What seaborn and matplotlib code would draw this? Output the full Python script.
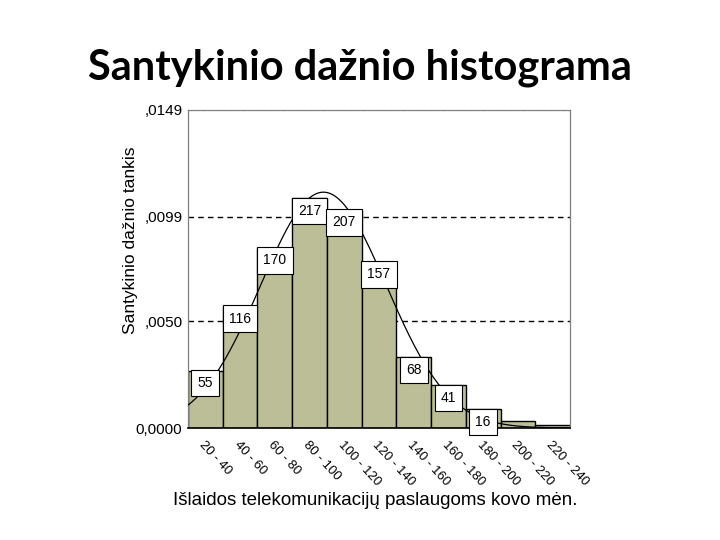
import numpy as np
import pandas as pd
import matplotlib
matplotlib.use("Agg")
import matplotlib.pyplot as plt
import seaborn as sns

# histogram data
bin_edges = [20, 40, 60, 80, 100, 120, 140, 160, 180, 200, 220, 240]
bin_labels = ["20 - 40", "40 - 60", "60 - 80", "80 - 100", "100 - 120", "120 - 140",
              "140 - 160", "160 - 180", "180 - 200", "200 - 220", "220 - 240"]
density = [0.00269, 0.00571, 0.00844, 0.01076, 0.01022, 0.00779,
           0.00331, 0.00200, 0.00087, 0.00033, 0.00013]
counts = [55, 116, 170, 217, 207, 157, 68, 41, 16, None, None]

# fitted normal curve parameters
curve_mean = 98.0
curve_sd = 36.1

ytick_values = [0.0, 0.0050, 0.0099, 0.0149]
ytick_labels = ["0,0000", ",0050", ",0099", ",0149"]

sns.set_style("white")
plt.rcParams["font.family"] = ["Liberation Sans", "DejaVu Sans"]
plt.rcParams["text.color"] = "black"
plt.rcParams["axes.labelcolor"] = "black"
plt.rcParams["xtick.color"] = "black"
plt.rcParams["ytick.color"] = "black"

bin_centers = [(a + b) / 2 for a, b in zip(bin_edges[:-1], bin_edges[1:])]
df = pd.DataFrame({"center": bin_centers, "density": density, "label": bin_labels})

fig = plt.figure(figsize=(7.2, 5.4), dpi=100)
ax = fig.add_axes([188 / 720, 1 - 428 / 540, 382 / 720, 318 / 540])

sns.histplot(data=df, x="center", weights="density", bins=bin_edges, stat="count",
             color="#BBBE96", alpha=1, edgecolor="black", linewidth=1.0, ax=ax, zorder=2)

# normal curve
xs = np.linspace(bin_edges[0], bin_edges[-1], 300)
pdf = np.exp(-0.5 * ((xs - curve_mean) / curve_sd) ** 2) / (curve_sd * np.sqrt(2 * np.pi))
sns.lineplot(x=xs, y=pdf, color="black", linewidth=0.9, ax=ax, zorder=3)

# count labels in white boxes
for x, h, c in zip(bin_centers, density, counts):
    if c is None:
        continue
    ax.annotate(str(c), xy=(x, h), xytext=(0, -4), textcoords="offset points",
                ha="center", va="top", fontsize=10, zorder=5,
                bbox=dict(boxstyle="square,pad=0.45", fc="white", ec="black", lw=0.8))

# grid lines
for v in ytick_values[1:3]:
    ax.axhline(v, color="black", linestyle=(0, (4, 3)), linewidth=1.0, zorder=1)
ax.axhline(ytick_values[3], color="gray", linestyle=(0, (4, 2)), linewidth=0.8, zorder=1)

ax.set_xlim(bin_edges[0], bin_edges[-1])
ax.set_ylim(0, ytick_values[-1])
ax.set_yticks(ytick_values)
ax.set_yticklabels(ytick_labels, fontsize=11)
ax.set_xticks(bin_centers)
ax.set_xticklabels(bin_labels, rotation=-47, ha="left", va="top", fontsize=9.5,
                   rotation_mode="anchor")
ax.tick_params(axis="y", direction="out", length=3, width=1, pad=1)
ax.tick_params(axis="x", direction="out", length=3, width=1.5, pad=5)

for side in ["left", "top", "right"]:
    ax.spines[side].set_color("gray")
    ax.spines[side].set_linewidth(0.9)
ax.spines["bottom"].set_color("black")
ax.spines["bottom"].set_linewidth(1.2)

ax.set_ylabel("Santykinio dažnio tankis", fontsize=12.5)
ax.yaxis.set_label_coords(-0.13, 0.59)
ax.set_xlabel("Išlaidos telekomunikacijų paslaugoms kovo mėn.", fontsize=13.5)
ax.xaxis.set_label_coords(0.49, -0.2)

fig.text(0.5, 1 - 68 / 540, "Santykinio dažnio histograma", ha="center", va="center",
         fontsize=30, fontweight="bold", color="black", family=["Lato", "DejaVu Sans"])

fig.savefig("out.png", dpi=100)
